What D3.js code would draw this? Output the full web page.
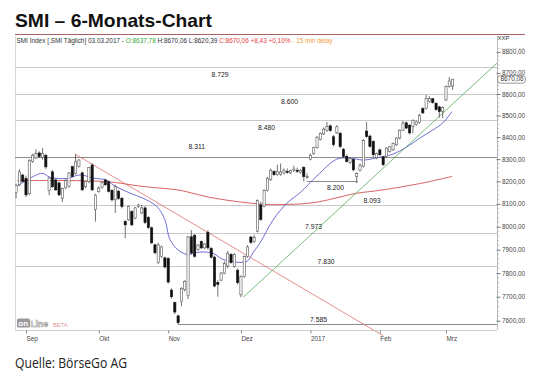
<!DOCTYPE html>
<html>
<head>
<meta charset="utf-8">
<script src="https://cdn.jsdelivr.net/npm/d3@7"></script>
<style>
  body { margin: 0; background: #fff; }
  svg { display: block; font-family: "Liberation Sans", Arial, sans-serif; }
</style>
</head>
<body>
<div id="chart"></div>
<script>
/**
 * DATA
 * daily SMI candles, 29.08.2016 - 03.03.2017 : [open, high, low, close]
 */
const candles = [
  [8150,8190,8125,8183],[8185,8255,8180,8243],[8228,8235,8195,8200],[8212,8225,8130,8140],
  [8145,8300,8140,8294],[8290,8325,8284,8318],[8305,8345,8300,8325],[8328,8336,8305,8312],
  [8308,8350,8298,8326],[8318,8322,8255,8265],[8160,8218,8138,8215],[8243,8250,8172,8176],
  [8206,8212,8158,8162],[8193,8198,8135,8140],[8125,8172,8108,8168],[8172,8210,8165,8205],
  [8178,8242,8172,8238],[8266,8270,8218,8222],[8236,8323,8230,8288],[8268,8300,8262,8296],
  [8238,8245,8158,8162],[8176,8202,8170,8198],[8198,8265,8192,8262],[8273,8282,8158,8162],
  [8075,8145,8022,8139],[8155,8178,8150,8170],[8172,8200,8168,8195],[8206,8212,8180,8185],
  [8198,8203,8150,8156],[8160,8165,8110,8118],[8118,8185,8060,8176],[8156,8162,8118,8124],
  [8125,8130,8080,8088],[8022,8028,7950,8008],[8030,8092,8025,8088],[8066,8072,8002,8008],
  [8038,8086,8032,8082],[8088,8100,8082,8095],[8060,8095,8055,8082],[8082,8090,8012,8018],
  [8040,8046,7990,7996],[7995,8000,7924,7930],[7921,7926,7880,7887],[7845,7930,7838,7921],
  [7870,7918,7864,7912],[7865,7870,7820,7826],[7862,7868,7755,7762],[7728,7735,7692,7700],
  [7675,7680,7628,7636],[7620,7625,7585,7592],[7680,7740,7660,7735],[7730,7770,7722,7765],
  [7705,7960,7690,7955],[7956,7985,7880,7886],[7962,7968,7865,7872],[7900,7925,7895,7920],
  [7935,7940,7902,7908],[7908,7930,7902,7925],[7975,7985,7900,7908],[7905,7912,7862,7868],
  [7868,7875,7740,7745],[7760,7770,7700,7752],[7770,7805,7765,7800],[7800,7850,7795,7840],
  [7830,7895,7820,7885],[7880,7885,7840,7845],[7828,7885,7822,7880],[7812,7820,7752,7760],
  [7708,7790,7698,7785],[7785,7875,7780,7870],[7870,7920,7865,7912],[7955,7960,7925,7932],
  [7935,7965,7930,7952],[7980,8120,7975,8115],[8095,8110,8025,8032],[8090,8165,8085,8160],
  [8160,8220,8155,8214],[8208,8258,8202,8250],[8244,8250,8225,8230],[8230,8275,8225,8245],
  [8232,8280,8225,8242],[8238,8258,8232,8250],[8245,8258,8235,8240],[8238,8252,8232,8248],
  [8248,8270,8242,8255],[8250,8262,8238,8245],[8240,8255,8235,8250],[8262,8268,8200,8222],
  [8218,8235,8212,8222],[8300,8325,8295,8318],[8326,8356,8320,8352],[8352,8405,8348,8400],
  [8390,8422,8385,8418],[8415,8445,8410,8437],[8430,8470,8425,8450],[8452,8458,8425,8430],
  [8402,8410,8358,8366],[8420,8455,8415,8448],[8418,8425,8350,8358],[8345,8350,8305,8312],
  [8312,8322,8285,8290],[8285,8306,8278,8302],[8298,8302,8245,8252],[8222,8240,8192,8236],
  [8248,8280,8244,8273],[8268,8392,8262,8385],[8428,8470,8398,8404],[8405,8412,8352,8358],
  [8380,8386,8310,8320],[8306,8330,8300,8326],[8342,8348,8315,8320],[8310,8315,8268,8275],
  [8312,8354,8306,8350],[8335,8360,8330,8356],[8342,8376,8338,8372],[8365,8400,8360,8396],
  [8396,8436,8390,8432],[8432,8475,8428,8465],[8466,8472,8438,8442],[8455,8460,8412,8420],
  [8448,8482,8418,8478],[8458,8476,8452,8470],[8468,8508,8462,8500],[8532,8538,8508,8512],
  [8534,8597,8528,8580],[8566,8590,8560,8580],[8578,8582,8555,8560],[8557,8562,8522,8527],
  [8540,8545,8490,8518],[8520,8542,8488,8538],[8572,8640,8568,8635],[8636,8680,8630,8661.63],
  [8637.78,8670.06,8620.39,8670.06]
];

// short moving average (blue), read at [day index, value]
const maFast = [
  [0.3,8178],[7.8,8236],[10.3,8218],[15.4,8213],[19.3,8229],[23.3,8215],[27.5,8205],
  [29.3,8185],[34.4,8148],[38.4,8125],[42.6,8088],[45,8030],[46.5,7945],[48.9,7900],
  [51.7,7880],[55.6,7890],[59.5,7885],[62.3,7860],[66.2,7847],[69.8,7850],[71.6,7886],
  [73.8,7930],[77.7,8029],[81.9,8103],[85.9,8150],[91,8225],[97,8300],[101,8305],
  [104.9,8296],[110,8309],[114,8323],[118.2,8356],[122.1,8396],[126,8433],[129,8465],
  [131.8,8518]
];

// long moving average (red)
const maSlow = [
  [0.3,8203],[13,8204],[26,8200],[30,8195],[38,8178],[45,8168],[49.6,8160],[59.6,8126],
  [74.7,8098],[79.8,8097],[89.8,8105],[103,8147],[110,8160],[122,8190],[131.8,8222]
];

// trend lines [from index, from value, to index, to value]
const downTrend = [17.8, 8323, 111, 7538];
const upTrend = [68.7, 7698, 145.4, 8746];

// marked levels: value, first day, last day (null = whole width)
const levels = [
  { v: 8729, from: null, to: null },
  { v: 8600, from: null, to: null },
  { v: 8480, from: null, to: null },
  { v: 8311, from: null, to: null },
  { v: 8200, from: 87.9, to: 103.3 },
  { v: 8093, from: null, to: null },
  { v: 7973, from: null, to: null },
  { v: 7830, from: null, to: null },
  { v: 7585, from: 49, to: null }
];
const levelNames = ["8.729","8.600","8.480","8.311","8.200","8.093","7.973","7.830","7.585"];

const monthNames = ["Sep","Okt","Nov","Dez","2017","Feb","Mrz"];
const monthStart = [3, 25, 46, 68, 89, 110, 130];   // day index of first trading day

const yTickValues = [7600,7700,7800,7900,8000,8100,8200,8300,8400,8500,8600,8700,8800];
const lastClose = 8670.06;

/**
 * LAYOUT
 * */
const width = 540, height = 378;
const plot = { left: 15, right: 497, top: 36, bottom: 330 };
// label placement for the levels: x of the text, shift of baseline from the line
const levelLabelX = [211.5, 281, 258, 188.5, 327, 363.5, 305, 317.5, 310];
const levelLabelDy = [10, 10, 10, -7.3, 8.6, -2.1, -3.4, -1.8, -2.7];
const darkLevels = ["8.311", "8.200", "7.585"];

const svg = d3.select("#chart")
  .append("svg")
  .attr("width", width)
  .attr("height", height);

/**********/
/* SCALES */
/**********/
const x = d3.scaleLinear().domain([0, 132]).range([16.08, 452.6]);
const y = d3.scaleLog().domain([7600, 8800]).range([320.7, 51.9]);

const deLocale = d3.formatLocale({ decimal: ",", thousands: ".", grouping: [3], currency: ["", ""] });
const fmt = deLocale.format(".2f");

/* TITLE */
svg.append("text")
  .attr("x", 15).attr("y", 27)
  .attr("font-size", 19).attr("font-weight", "bold").attr("fill", "#111")
  .attr("textLength", 197).attr("lengthAdjust", "spacingAndGlyphs")
  .text("SMI – 6-Monats-Chart");

svg.append("line")
  .attr("x1", 15).attr("x2", 525).attr("y1", 34.5).attr("y2", 34.5)
  .attr("stroke", "#a86060").attr("stroke-width", 1);

/* HEADER LINE */
const header = svg.append("text")
  .attr("x", 16.5).attr("y", 42.6)
  .attr("font-size", 6.3)
  .attr("textLength", 316).attr("lengthAdjust", "spacingAndGlyphs");
[
  ["SMI Index [.SMI Täglich] 03.03.2017 - ", "#333"],
  ["O:8637,78", "#3aa63a"],
  [" H:8670,06 L:8620,39 ", "#333"],
  ["C:8670,06 +8,43 +0,10%", "#e0403c"],
  [" - 15 min delay", "#eea040"]
].forEach(([t, c]) => header.append("tspan").attr("fill", c).text(t));

svg.append("text")
  .attr("x", 497.5).attr("y", 40)
  .attr("font-size", 6).attr("fill", "#333")
  .text("XXP");
svg.append("line")
  .attr("x1", 498).attr("x2", 525).attr("y1", 48.5).attr("y2", 48.5)
  .attr("stroke", "#aaa").attr("stroke-width", 0.6).attr("stroke-dasharray", "1.5,2");

/* FRAME */
svg.append("line")
  .attr("x1", plot.left + 0.5).attr("x2", plot.left + 0.5)
  .attr("y1", plot.top).attr("y2", plot.bottom)
  .attr("stroke", "#d8d8d8");

svg.append("clipPath").attr("id", "plotClip")
  .append("rect")
  .attr("x", plot.left).attr("y", plot.top)
  .attr("width", plot.right - plot.left).attr("height", plot.bottom - plot.top + 6);

const g = svg.append("g").attr("clip-path", "url(#plotClip)");

/* LEVEL LINES */
levels.forEach((d, i) => {
  const name = levelNames[i];
  const yy = Math.round(y(d.v)) + 0.5;
  g.append("line")
    .attr("x1", d.from === null ? plot.left : x(d.from))
    .attr("x2", d.to === null ? plot.right : x(d.to))
    .attr("y1", yy).attr("y2", yy)
    .attr("stroke", darkLevels.includes(name) ? "#8c8c8c" : "#c9c9c9")
    .attr("stroke-width", 1);
  g.append("text")
    .attr("x", levelLabelX[i])
    .attr("y", y(d.v) + levelLabelDy[i])
    .attr("font-size", 6.8).attr("fill", "#222")
    .text(name);
});

/* MOVING AVERAGES */
const maLine = d3.line()
  .x(d => x(d[0]))
  .y(d => y(d[1]))
  .curve(d3.curveCatmullRom.alpha(0.5));

g.append("path")
  .attr("d", maLine(maSlow))
  .attr("fill", "none").attr("stroke", "#cc3a3a").attr("stroke-width", 0.8);

g.append("path")
  .attr("d", maLine(maFast))
  .attr("fill", "none").attr("stroke", "#4a4ac8").attr("stroke-width", 0.8);

/* TREND LINES */
[[downTrend, "#e07070"], [upTrend, "#5aaa5a"]].forEach(([t, c]) => {
  g.append("line")
    .attr("x1", x(t[0])).attr("y1", y(t[1]))
    .attr("x2", x(t[2])).attr("y2", y(t[3]))
    .attr("stroke", c).attr("stroke-width", 0.8);
});

/* CANDLES */
const bodyW = 2.2;
const candle = g.selectAll("g.candle")
  .data(candles)
  .join("g")
  .attr("class", "candle");

candle.append("line")
  .attr("x1", (d, i) => x(i)).attr("x2", (d, i) => x(i))
  .attr("y1", d => y(d[1])).attr("y2", d => y(d[2]))
  .attr("stroke", "#333").attr("stroke-width", 0.7);

candle.append("rect")
  .attr("x", (d, i) => x(i) - bodyW / 2)
  .attr("width", bodyW)
  .attr("y", d => y(Math.max(d[0], d[3])))
  .attr("height", d => Math.max(0.8, Math.abs(y(d[0]) - y(d[3]))))
  .attr("fill", d => d[3] >= d[0] ? "#fff" : "#111")
  .attr("stroke", d => d[3] >= d[0] ? "#555" : "#111")
  .attr("stroke-width", 0.6);

/* Y AXIS */
const yAxis = d3.axisRight(y)
  .tickValues(yTickValues)
  .tickFormat(fmt)
  .tickSize(3)
  .tickPadding(1.5);

const yg = svg.append("g")
  .attr("transform", `translate(${plot.right + 0.5},0)`)
  .call(yAxis);
yg.select(".domain").attr("stroke", "#bbb").attr("d", `M0,${plot.top}V${plot.bottom}`);
yg.selectAll(".tick line").attr("stroke", "#777").attr("x1", -1);
yg.selectAll(".tick text").attr("font-size", 6.4).attr("fill", "#444").attr("font-family", "Liberation Sans, Arial, sans-serif");

// minor ticks every 20 points
yg.selectAll("line.minor")
  .data(d3.range(7600, 8801, 20).filter(v => v % 100 !== 0))
  .join("line")
  .attr("class", "minor")
  .attr("x1", 0).attr("x2", 1.5)
  .attr("y1", d => y(d)).attr("y2", d => y(d))
  .attr("stroke", "#999").attr("stroke-width", 0.6);

// last price marker
const lastY = y(lastClose);
svg.append("rect")
  .attr("x", 497.5).attr("y", lastY - 3.6)
  .attr("width", 28).attr("height", 7.6).attr("rx", 3)
  .attr("fill", "#fff").attr("stroke", "#555").attr("stroke-width", 0.6);
svg.append("text")
  .attr("x", 500.5).attr("y", lastY + 2.3)
  .attr("font-size", 6.4).attr("fill", "#333")
  .text(fmt(lastClose));

/* X AXIS */
const xAxis = d3.axisBottom(x)
  .tickValues(monthStart)
  .tickFormat((d, i) => monthNames[i])
  .tickSize(3)
  .tickPadding(3);

const xg = svg.append("g")
  .attr("transform", `translate(0,${plot.bottom + 0.5})`)
  .call(xAxis);
xg.select(".domain").attr("stroke", "#ccc").attr("d", `M${plot.left},0H${plot.right}`);
xg.selectAll(".tick line").attr("stroke", "#888");
xg.selectAll(".tick text")
  .attr("text-anchor", "start")
  .attr("font-size", 6.4).attr("fill", "#444")
  .attr("font-family", "Liberation Sans, Arial, sans-serif");

/* LOGO */
svg.append("rect")
  .attr("x", 17).attr("y", 318.5).attr("width", 13).attr("height", 9).attr("rx", 1.5)
  .attr("fill", "#9a9a9a");
svg.append("text")
  .attr("x", 18.3).attr("y", 326).attr("font-size", 8).attr("font-weight", "bold")
  .attr("fill", "#fff").text("on");
svg.append("text")
  .attr("x", 30.5).attr("y", 326.5).attr("font-size", 8.5).attr("font-weight", "bold")
  .attr("fill", "#fff").attr("stroke", "#9a9a9a").attr("stroke-width", 0.6).text("Line");
svg.append("text")
  .attr("x", 53).attr("y", 326.5).attr("font-size", 5.8)
  .attr("fill", "#e89a9a").text("BETA");

/* SOURCE */
svg.append("text")
  .attr("x", 15).attr("y", 368)
  .attr("font-size", 14.5).attr("fill", "#222")
  .attr("font-family", "'Liberation Sans Narrow', 'Open Sans', sans-serif")
  .attr("textLength", 112).attr("lengthAdjust", "spacingAndGlyphs")
  .text("Quelle: BörseGo AG");
</script>
</body>
</html>
